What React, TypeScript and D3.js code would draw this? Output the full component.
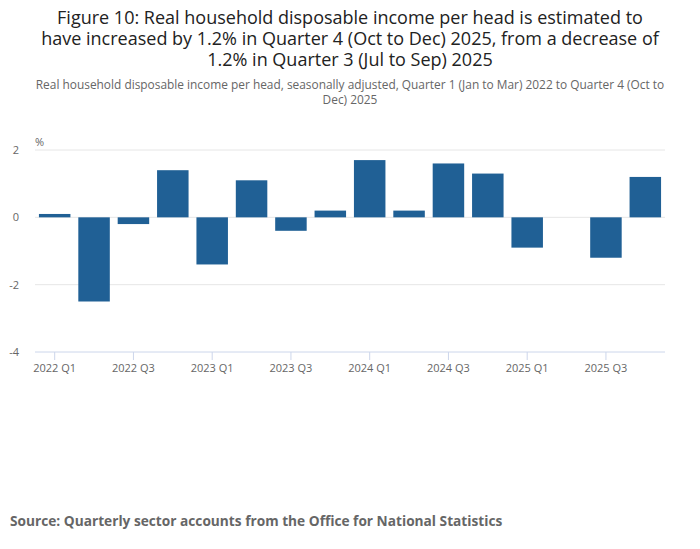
import React from 'react';
import * as d3 from 'd3';

const quarters = [
  '2022 Q1', '2022 Q2', '2022 Q3', '2022 Q4',
  '2023 Q1', '2023 Q2', '2023 Q3', '2023 Q4',
  '2024 Q1', '2024 Q2', '2024 Q3', '2024 Q4',
  '2025 Q1', '2025 Q2', '2025 Q3', '2025 Q4',
];
const values = [0.1, -2.5, -0.2, 1.4, -1.4, 1.1, -0.4, 0.2, 1.7, 0.2, 1.6, 1.3, -0.9, 0, -1.2, 1.2];
const yTicks = [2, 0, -2, -4];
const titleLines = [
  'Figure 10: Real household disposable income per head is estimated to',
  'have increased by 1.2% in Quarter 4 (Oct to Dec) 2025, from a decrease of',
  '1.2% in Quarter 3 (Jul to Sep) 2025',
];
const subtitleLines = [
  'Real household disposable income per head, seasonally adjusted, Quarter 1 (Jan to Mar) 2022 to Quarter 4 (Oct to',
  'Dec) 2025',
];
const source = 'Source: Quarterly sector accounts from the Office for National Statistics';

const W = 700;
const H = 549;
const font = '"Open Sans", sans-serif';

export default function App() {
  const margin = { left: 35, right: 35, top: 150, bottom: 197 };
  const x = d3.scaleBand<string>().domain(quarters).range([margin.left, W - margin.right]).paddingInner(0.2).paddingOuter(0.1);
  const y = d3.scaleLinear().domain([-4, 2]).range([H - margin.bottom, margin.top]);
  const bottom = y(-4);

  return (
    <svg width={W} height={H} style={{ position: 'absolute', left: 0, top: 0, background: '#fff' }}>
      {titleLines.map((t, i) => (
        <text key={i} x={W / 2} y={24 + i * 21} textAnchor="middle" fontFamily={font} fontSize={18} fill="#222">{t}</text>
      ))}
      {subtitleLines.map((t, i) => (
        <text key={i} x={W / 2} y={89 + i * 15} textAnchor="middle" fontFamily={font} fontSize={11.9} fill="#666">{t}</text>
      ))}

      {yTicks.map((t) => (
        <g key={t}>
          {t !== -4 && (
            <line x1={margin.left} x2={W - margin.right} y1={y(t)} y2={y(t)} stroke="#e6e6e6" strokeWidth={1} />
          )}
          <text x={19} y={y(t) + 4} textAnchor="end" fontFamily={font} fontSize={11} fill="#666">{t}</text>
        </g>
      ))}
      <text x={35} y={146} fontFamily={font} fontSize={11} fill="#666">%</text>

      {quarters.map((q, i) => {
        const v = values[i];
        if (v === 0) return null;
        return (
          <rect key={q} x={x(q)} width={x.bandwidth()} y={Math.min(y(v), y(0))}
            height={Math.abs(y(v) - y(0))} fill="#206095" />
        );
      })}

      <line x1={margin.left} x2={W - margin.right} y1={bottom} y2={bottom} stroke="#ccd6eb" strokeWidth={1} />
      {quarters.map((q, i) => i % 2 === 0 && (
        <g key={q}>
          <line x1={x(q)! + x.bandwidth() / 2} x2={x(q)! + x.bandwidth() / 2} y1={bottom} y2={bottom + 8} stroke="#ccd6eb" />
          <text x={x(q)! + x.bandwidth() / 2} y={bottom + 20} textAnchor="middle" fontFamily={font} fontSize={11} fill="#666">{q}</text>
        </g>
      ))}

      <text x={10} y={526} fontFamily={font} fontSize={13.7} fontWeight="bold" fill="#666">{source}</text>
    </svg>
  );
}
